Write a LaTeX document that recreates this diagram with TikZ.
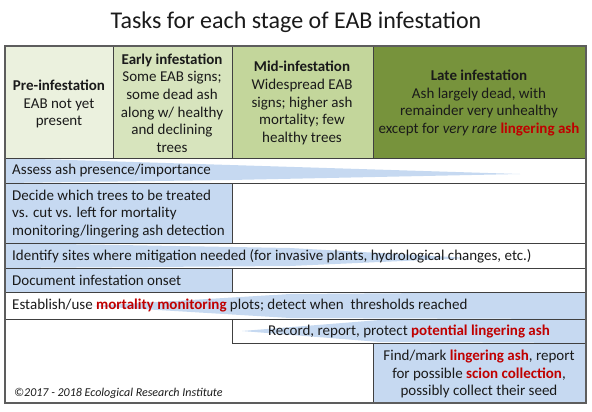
\documentclass[tikz,border=0pt]{standalone}
\usepackage{fontspec}
\setmainfont{Carlito}
\definecolor{preG}{HTML}{EBF1DE}
\definecolor{earlyG}{HTML}{D7E4BD}
\definecolor{midG}{HTML}{C3D69B}
\definecolor{lateG}{HTML}{77933C}
\definecolor{blueF}{HTML}{C6D9F1}
\definecolor{redT}{HTML}{C00000}
\definecolor{lineC}{HTML}{404040}
\definecolor{txtC}{HTML}{1A1A1A}
\newcommand\rd[1]{\textcolor{redT}{\textbf{#1}}}
\begin{document}
\begin{tikzpicture}[x=1pt,y=-1pt,
  every node/.style={inner sep=0pt, text=txtC},
  celltxt/.style={align=center, font=\fontsize{15}{17.6}\selectfont},
  rowtxt/.style={anchor=west, align=left, font=\fontsize{15}{17.6}\selectfont},
  grid/.style={draw=lineC, line width=0.8pt},
  outer/.style={draw=lineC!85, line width=1.4pt}]
\useasboundingbox (0,0) rectangle (592,412);
\fill[white] (0,0) rectangle (592,412);
% header fills
\fill[preG] (5,46) rectangle (113,158);
\fill[earlyG] (113,46) rectangle (232,158);
\fill[midG] (232,46) rectangle (373,158);
\fill[lateG] (373,46) rectangle (586,158);
% blue fills
\fill[blueF] (5,158) -- (5,183) -- (230,180) -- (520,174) -- (230,165) -- cycle;
\fill[blueF] (5,183) rectangle (232,243);
\fill[blueF] (5,243) -- (5,268) -- (290,266) -- (470,258) -- (290,248) -- cycle;
\fill[blueF] (5,268) rectangle (232,292);
\fill[blueF] (92,306) -- (290,294) -- (586,292) -- (586,319) -- (290,318) -- cycle;
\fill[blueF] (242,331) -- (380,320) -- (586,319) -- (586,343) -- (380,342) -- cycle;
\fill[blueF] (373,343) rectangle (586,403);
% grid lines
\draw[grid] (113,46) -- (113,158) (232,46) -- (232,158) (373,46) -- (373,158);
\draw[grid] (5,158) -- (586,158) (5,183) -- (586,183) (5,243) -- (586,243)
  (5,268) -- (586,268) (5,292) -- (586,292) (5,319) -- (586,319) (232,343) -- (586,343);
\draw[grid] (232,183) -- (232,243) (232,268) -- (232,292) (232,319) -- (232,343) (373,343) -- (373,403);
\draw[outer] (5,46) rectangle (586,403);
% title
\node[font=\fontsize{24}{28}\selectfont] (title) at (296,22) {Tasks for each stage of EAB infestation};
% header texts
\node[celltxt] (pre) at (59,104) {\textbf{Pre-infestation}\\EAB not yet\\present};
\node[celltxt] (early) at (172,103) {\textbf{Early infestation}\\Some EAB signs;\\some dead ash\\along w/ healthy\\and declining\\trees};
\node[celltxt] (mid) at (302,103) {\textbf{Mid-infestation}\\Widespread EAB\\signs; higher ash\\mortality; few\\healthy trees};
\node[celltxt] (late) at (479,103) {\textbf{Late infestation}\\Ash largely dead, with\\remainder very unhealthy\\except for \textit{very rare} \rd{lingering ash}};
% row texts
\node[rowtxt] (assess) at (12,171) {Assess ash presence/importance};
\node[rowtxt] (decide) at (12,214) {Decide which trees to be treated\\vs. cut vs. left for mortality\\monitoring/lingering ash detection};
\node[rowtxt] (identify) at (12,256) {Identify sites where mitigation needed (for invasive plants, hydrological changes, etc.)};
\node[rowtxt] (document) at (12,280) {Document infestation onset};
\node[rowtxt] (establish) at (12,306) {Establish/use \rd{mortality monitoring} plots; detect when~ thresholds reached};
\node[celltxt] (record) at (409,331) {Record, report, protect \rd{potential lingering ash}};
\node[celltxt] (find) at (479,374) {Find/mark \rd{lingering ash}, report\\for possible \rd{scion collection},\\possibly collect their seed};
\node[anchor=west, font=\fontsize{12}{14}\selectfont\itshape] (copy) at (14,393) {©2017 - 2018 Ecological Research Institute};
\end{tikzpicture}
\end{document}
